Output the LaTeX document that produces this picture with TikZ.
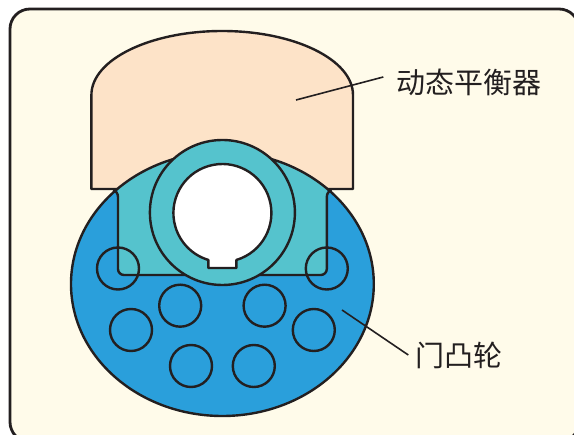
\documentclass[tikz,border=0pt]{standalone}
\usepackage{fontspec}
\newfontfamily\cjk{Noto Sans CJK SC}
\definecolor{ink}{HTML}{231F20}
\definecolor{cream}{HTML}{FFFBEA}
\definecolor{peach}{HTML}{FDE3C8}
\definecolor{camblue}{HTML}{2A9FDB}
\definecolor{hubteal}{HTML}{55C3CD}
\tikzset{
  outline/.style={draw=ink, line width=2.4pt, line join=round},
  hole/.style={draw=ink, line width=2.4pt},
  leader/.style={draw=ink, line width=1.6pt},
  caption/.style={font=\cjk\fontsize{29}{29}\selectfont, text=ink, inner sep=0pt},
}
\begin{document}
\begin{tikzpicture}[x=1pt, y=-1pt]
  \useasboundingbox (0,0) rectangle (574,435);
  \clip (0,0) rectangle (574,435);
  \fill[white] (0,0) rectangle (574,435);

  % panel
  \path[outline, fill=cream, line width=2.8pt, rounded corners=20] (10,9) rectangle (579,442);

  % balancer block with elliptical top
  \path[outline, fill=peach] (91.4,189) -- (91.4,95)
    arc[start angle=180, end angle=360, x radius=130.8, y radius=64] -- (353,189) -- cycle;

  % cam disc
  \path[fill=camblue] (222.4,284) ellipse[x radius=151.4, y radius=132];

  % hub plate, clipped to the disc
  \begin{scope}
    \clip (222.4,284) ellipse[x radius=151.4, y radius=132];
    \fill[hubteal] (118,100) {[rounded corners=6] -- (118,275) -- (326.8,275)} -- (326.8,100) -- cycle;
  \end{scope}
  \path[outline] (113,190.5) to[out=-5,in=90] (118,197)
    {[rounded corners=6] -- (118,275) -- (326.8,275)} -- (326.8,197) to[out=90,in=185] (331.8,190.5);
  \path[outline] (222.4,284) ellipse[x radius=151.4, y radius=132];

  % hub ring
  \path[outline, fill=hubteal] (222.4,212.5) circle[radius=72.5];

  % shaft bore with keyway
  \path[outline, fill=white] (236.4,259.96)
    arc[start angle=73.4, end angle=-253.4, radius=49] -- (208.4,268) -- (236.4,268) -- cycle;

  % bolt holes
  \foreach \n/\hx/\hy in {a/118/268.5, b/326.8/268.5, c/180.2/305.7, d/264.6/305.7,
                          e/131/330, f/313.8/330, g/191/366, h/253.8/366}
    \path[hole] (\hx,\hy) circle[radius=21];

  % labels
  \node[caption] (balabel) at (469,82) {动态平衡器};
  \node[caption] (camlabel) at (459,355) {门凸轮};
  \coordinate (balpt) at (296,100);
  \coordinate (campt) at (342,310);
  \path[leader] (balpt) -- ([xshift=-13pt, yshift=5pt]balabel.west);
  \path[leader] (campt) -- ([xshift=-7pt]camlabel.west);
\end{tikzpicture}
\end{document}
